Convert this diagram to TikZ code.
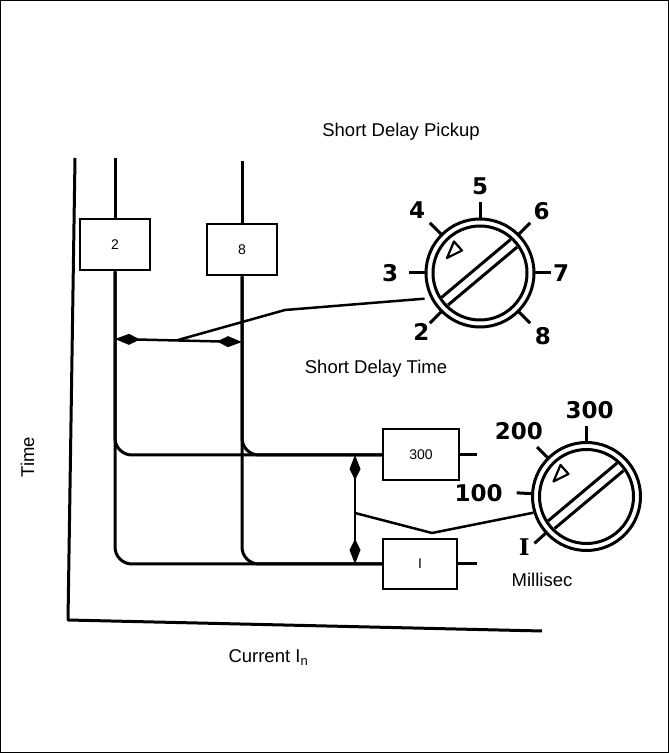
\documentclass[tikz,border=0pt]{standalone}
\usepackage{fontspec}
\setmainfont{Liberation Sans}
\newfontfamily\dialfont{DejaVu Sans}
\newfontfamily\dialserif{DejaVu Serif}
\usepackage{tikz}
\usetikzlibrary{arrows.meta,positioning,calc}

\begin{document}
\begin{tikzpicture}[
    x=1pt, y=1pt,
    axisline/.style={line width=3pt, line join=round},
    trace/.style={line width=3pt, rounded corners=17pt},
    setting/.style={rectangle, draw, fill=white, line width=2pt, minimum width=70pt, minimum height=51pt, font=\fontsize{14}{16}\selectfont},
    dbl/.style={line width=2.5pt, {Kite[length=25pt,width=11pt,inset=11pt]}-{Kite[length=25pt,width=11pt,inset=11pt]}},
    wire/.style={line width=2.5pt, line join=round},
    dial/.style={circle, draw, line width=3pt, minimum size=108pt, inner sep=0pt},
    dialline/.style={line width=3pt},
    pointer/.style={line width=2.2pt, line join=round},
    dialnum/.style={font=\dialfont\bfseries\fontsize{23}{26}\selectfont},
    txt/.style={font=\fontsize{18.5}{22}\selectfont}
]
    \useasboundingbox (0,0) rectangle (669,753);
    \draw[line width=1pt] (0.5,0.5) rectangle (668.5,752.5);

    % Axes
    \coordinate (ytop) at (75,595);
    \coordinate (origin) at (68,133);
    \coordinate (xend) at (542,122);
    \draw[axisline] (ytop) -- (origin) -- (xend);
    \node[txt, rotate=90] (ylabel) at (27.5,296) {Time};
    \node[txt, anchor=base west] (xlabel) at (225,90) {Current I\textsubscript{n}};

    % Pickup settings
    \coordinate (top2) at (115,595);
    \coordinate (top8) at (242,592);
    \node[setting] (box2) at (115,508) {2};
    \node[setting] (box8) at (242,503) {8};

    % Delay bands
    \node[setting, minimum width=76pt] (box300) at (421,298) {300};
    \node[setting, minimum width=74pt, minimum height=50pt] (boxI) at (420,189) {I};
    \coordinate (stub300) at (477,298);
    \coordinate (stubI) at (477,189);

    % Curves
    \draw[trace] (top2) -- (box2.north);
    \draw[trace] (top8) -- (box8.north);
    \draw[trace] (box2.south) |- (box300.west);
    \draw[trace] (box8.south) |- (box300.west);
    \draw[trace] (box2.south) |- (boxI.west);
    \draw[trace] (box8.south) |- (boxI.west);
    \draw[trace] (box300.east) -- (stub300);
    \draw[trace] (boxI.east) -- (stubI);

    % Short delay pickup dial
    \begin{scope}[shift={(480,480)}]
        \node[dial] (pickup) at (0,0) {};
        \draw[dialline] (0,0) circle[radius=47];
        \draw[dialline, rotate=40] (-45,6) -- (45,6) (-45,-4) -- (45,-4);
        \draw[pointer] (-33,15) -- (-26,31.5) -- (-18,22.5) -- cycle;
        \foreach \a in {-45,0,...,225}
            \draw[dialline] (\a:55) -- (\a:71);
        \foreach \a/\r/\t in {225/83/2, 180/90/3, 135/89/4, 90/87/5, 45/87/6, 0/81/7, -45/89/8}
            \node[dialnum] (pick\t) at (\a:\r) {\t};
    \end{scope}

    % Short delay time dial
    \begin{scope}[shift={(586.5,256.5)}]
        \node[dial] (millisec) at (0,0) {};
        \draw[dialline] (0,0) circle[radius=47];
        \draw[dialline, rotate=40] (-45,6) -- (45,6) (-45,-4) -- (45,-4);
        \draw[pointer] (-33,15) -- (-26,31.5) -- (-18,22.5) -- cycle;
        \foreach \a in {90,135,177,222}
            \draw[dialline] (\a:55) -- (\a:70);
        \node[dialnum] (ms300) at (88:86) {300};
        \node[dialnum] (ms200) at (136:94) {200};
        \node[dialnum] (ms100) at (178:108) {100};
        \node[dialnum, font=\dialserif\bfseries\fontsize{23}{26}\selectfont] (msI) at (219:80) {I};
    \end{scope}

    % Pickup adjustment
    \coordinate (pa) at (115,414);
    \coordinate (pb) at (242,411);
    \coordinate (psplit) at (178,413);
    \coordinate (pkink) at (285,443);
    \draw[dbl] (pa) -- (pb);
    \draw[wire, shorten >=6pt] (psplit) -- (pkink) -- (pickup.207);

    % Delay adjustment
    \coordinate (tup) at (355,298);
    \coordinate (tdn) at (355,189);
    \coordinate (tsplit) at (355,240);
    \coordinate (tbend) at (432,220);
    \draw[dbl] (tup) -- (tdn);
    \draw[wire] (tsplit) -- (tbend) -- (millisec.197);

    % Labels
    \node[txt] (pickuptxt) at (401,621) {Short Delay Pickup};
    \node[txt] (timetxt) at (376,384) {Short Delay Time};
    \node[txt] (mstxt) at (542,173) {Millisec};
\end{tikzpicture}
\end{document}
